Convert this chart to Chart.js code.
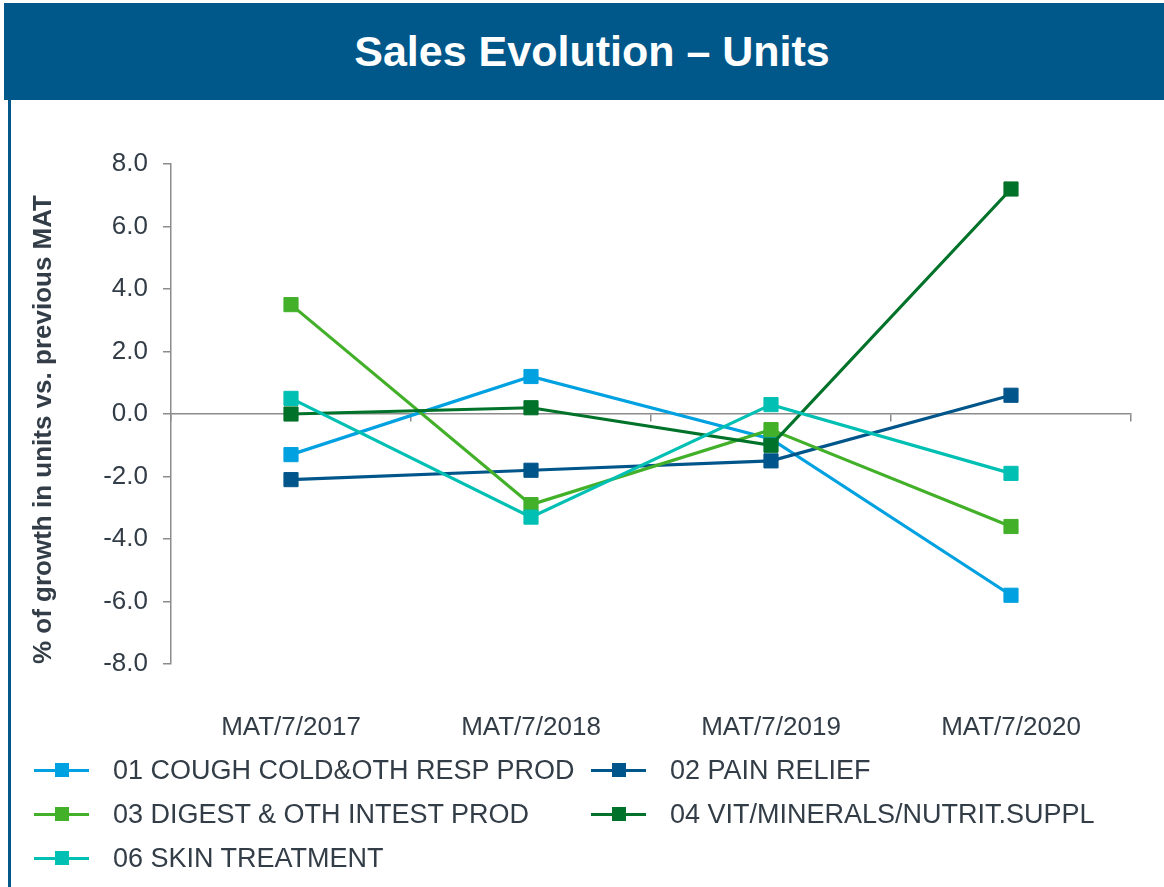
<!DOCTYPE html>
<html>
<head>
<meta charset="utf-8">
<script src="https://cdn.jsdelivr.net/npm/chart.js@4"></script>
<style>
  body { margin: 0; width: 1164px; height: 887px; background: #fff; position: relative; overflow: hidden; font-family: "Liberation Sans", Arial, sans-serif; }
  #titlebar { position: absolute; left: 4px; top: 3px; width: 1160px; height: 97px; background: #00578a; color: #fff; font-weight: bold; font-size: 43px; line-height: 97px; text-align: center; box-sizing: border-box; padding-left: 16px; }
  #leftline { position: absolute; left: 8px; top: 100px; width: 3px; height: 787px; background: #00578a; }
  #wrap { position: absolute; left: 0; top: 100px; width: 1164px; height: 650px; }
  #legend { position: absolute; left: 34px; top: 748px; width: 1120px; display: grid; grid-template-columns: 557px 540px; grid-auto-rows: 44px; }
  .item { display: flex; align-items: center; font-size: 27px; color: #333d47; white-space: nowrap; }
  .mark { position: relative; width: 55px; height: 14px; margin-right: 24px; }
  .mark .ln { position: absolute; left: 0; top: 5.5px; width: 55px; height: 3px; }
  .mark .sq { position: absolute; left: 20.5px; top: 0; width: 14px; height: 14px; }
</style>
</head>
<body>
<div id="titlebar">Sales Evolution – Units</div>
<div id="leftline"></div>
<div id="wrap"><canvas id="chart" width="1164" height="650"></canvas></div>
<div id="legend"></div>
<script>
const labels = ["MAT/7/2017", "MAT/7/2018", "MAT/7/2019", "MAT/7/2020"];

const seriesNames = [
  "01 COUGH COLD&OTH RESP PROD",
  "02 PAIN RELIEF",
  "03 DIGEST & OTH INTEST PROD",
  "04 VIT/MINERALS/NUTRIT.SUPPL",
  "06 SKIN TREATMENT"
];
const colors = ["#00a1e0", "#00558a", "#43b02a", "#007229", "#00bfb3"];

const cough = [-1.3, 1.2, -0.8, -5.8];
const pain = [-2.1, -1.8, -1.5, 0.6];
const digest = [3.5, -2.9, -0.5, -3.6];
const vit = [0.0, 0.2, -1.0, 7.2];
const skin = [0.5, -3.3, 0.3, -1.9];

const values = [cough, pain, digest, vit, skin];
const textColor = "#333d47";
const axisColor = "#8c8c8c";

const datasets = values.map((v, i) => ({
  label: seriesNames[i],
  data: v,
  borderColor: colors[i],
  backgroundColor: colors[i],
  borderWidth: 3.2,
  pointStyle: "rect",
  pointRadius: 10,
  pointHoverRadius: 10,
  pointBorderWidth: 1,
  order: values.length - 1 - i
}));

const ctx = document.getElementById("chart").getContext("2d");
const chart = new Chart(ctx, {
  type: "line",
  data: { labels: labels, datasets: datasets },
  options: {
    responsive: false,
    animation: false,
    layout: { padding: { top: 64, right: 33, left: 0, bottom: 0 } },
    plugins: { legend: { display: false }, tooltip: { enabled: false } },
    scales: {
      x: {
        offset: true,
        grid: { display: false, drawTicks: false },
        border: { display: false },
        ticks: { padding: 48, color: textColor, font: { family: "Liberation Sans", size: 26 } },
        afterFit: (s) => { s.height = 86; }
      },
      x2: {
        type: "category",
        position: { y: 0 },
        offset: true,
        grid: { offset: true, drawOnChartArea: false, tickLength: 7, color: axisColor, lineWidth: 1.5 },
        border: { color: axisColor, width: 1.5 },
        ticks: { display: false }
      },
      y: {
        min: -8,
        max: 8,
        ticks: {
          stepSize: 2,
          padding: 15,
          color: textColor,
          font: { family: "Liberation Sans", size: 26 },
          callback: (v) => v.toFixed(1)
        },
        grid: { drawOnChartArea: false, tickLength: 8, color: axisColor, lineWidth: 1.5 },
        border: { color: axisColor, width: 1.5 },
        title: {
          display: true,
          align: "start",
          text: "% of growth in units vs. previous MAT",
          color: textColor,
          font: { family: "Liberation Sans", size: 26, weight: "bold" },
          padding: { top: 28, bottom: 0 }
        },
        afterFit: (s) => { s.width = 171; }
      }
    }
  }
});

// legend in two columns, built from the chart datasets
const legendEl = document.getElementById("legend");
chart.data.datasets.forEach((ds) => {
  const item = document.createElement("div");
  item.className = "item";
  item.innerHTML = '<span class="mark"><span class="ln" style="background:' + ds.borderColor +
    '"></span><span class="sq" style="background:' + ds.backgroundColor + '"></span></span>';
  const txt = document.createElement("span");
  txt.textContent = ds.label;
  item.appendChild(txt);
  legendEl.appendChild(item);
});
</script>
</body>
</html>
